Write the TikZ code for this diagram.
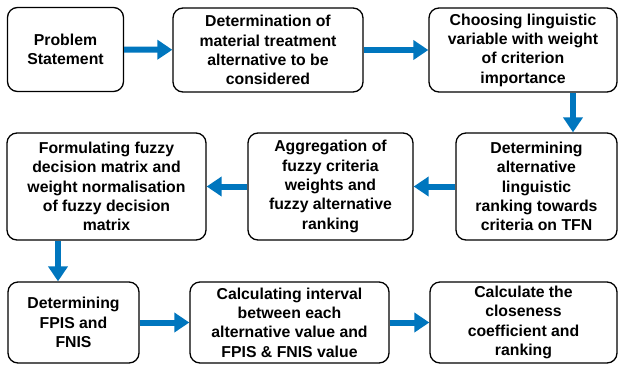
\documentclass[tikz,border=0pt]{standalone}
\usepackage{fontspec}
\setmainfont{Liberation Sans}
\usetikzlibrary{arrows.meta}
\definecolor{flowblue}{RGB}{0,118,190}
\tikzset{
  stepbox/.style={draw=black, line width=1.3pt, rounded corners=10pt, align=center,
    inner sep=2pt, font=\fontsize{15.8}{19.3}\selectfont\bfseries},
  flow/.style={draw=flowblue, line width=6pt, -{Triangle[width=19pt,length=15pt]}}
}
\begin{document}
\begin{tikzpicture}[x=1pt,y=-1pt]
\useasboundingbox (0,0) rectangle (618,365);
\node[stepbox, minimum width=116pt, minimum height=84pt] (b1) at (65.5,49.5) {Problem\\Statement};
\node[stepbox, minimum width=190pt, minimum height=84pt] (b2) at (268,50) {Determination of\\material treatment\\alternative to be\\considered};
\node[stepbox, minimum width=188pt, minimum height=84pt] (b3) at (523,50) {Choosing linguistic\\variable with weight\\of criterion\\importance};
\node[stepbox, minimum width=161pt, minimum height=107pt] (b4) at (536.5,186.5) {Determining\\alternative\\linguistic\\ranking towards\\criteria on TFN};
\node[stepbox, minimum width=165pt, minimum height=107pt] (b5) at (330.5,186.5) {Aggregation of\\fuzzy criteria\\weights and\\fuzzy alternative\\ranking};
\node[stepbox, minimum width=199pt, minimum height=107pt] (b6) at (106.5,186.5) {Formulating fuzzy\\decision matrix and\\weight normalisation\\of fuzzy decision\\matrix};
\node[stepbox, minimum width=131pt, minimum height=81pt] (b7) at (73.5,322.5) {Determining\\FPIS and\\FNIS};
\node[stepbox, minimum width=199pt, minimum height=81pt] (b8) at (289.5,322.5) {Calculating interval\\between each\\alternative value and\\FPIS \& FNIS value};
\node[stepbox, minimum width=187pt, minimum height=81pt] (b9) at (523.5,322.5) {Calculate the\\closeness\\coefficient and\\ranking};
\coordinate (x34) at (573,0);
\coordinate (x67) at (58,0);
\draw[flow] (b1) -- (b2);
\draw[flow] (b2) -- (b3);
\draw[flow] (b3.south -| x34) -- (b4.north -| x34);
\draw[flow] (b4) -- (b5);
\draw[flow] (b5) -- (b6);
\draw[flow] (b6.south -| x67) -- (b7.north -| x67);
\draw[flow] (b7) -- (b8);
\draw[flow] (b8) -- (b9);
\end{tikzpicture}
\end{document}
